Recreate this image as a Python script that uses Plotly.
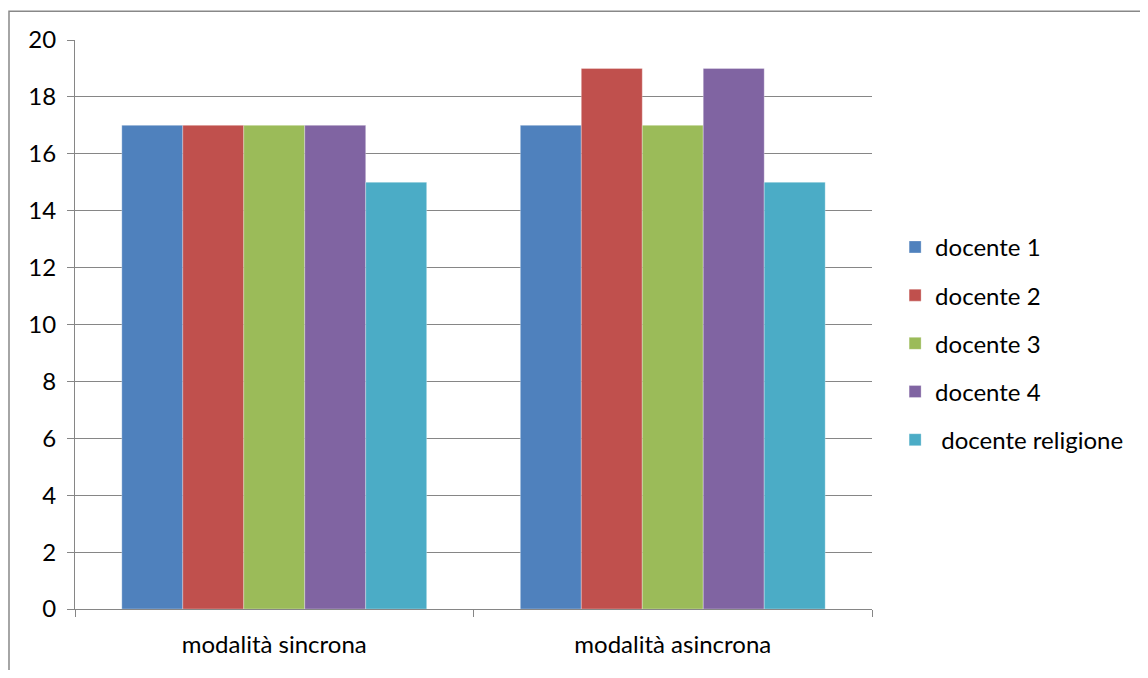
import plotly.graph_objects as go

categories = ["modalità sincrona", "modalità asincrona"]
series_names = ["docente 1", "docente 2", "docente 3", "docente 4", " docente religione"]
docente_1 = [17, 17]
docente_2 = [17, 19]
docente_3 = [17, 17]
docente_4 = [17, 19]
docente_religione = [15, 15]
series_values = [docente_1, docente_2, docente_3, docente_4, docente_religione]
colors = ["#4F81BD", "#C0504D", "#9BBB59", "#8064A2", "#4BACC6"]
y_ticks = list(range(0, 21, 2))

fig = go.Figure()
for i, (name, vals) in enumerate(zip(series_names, series_values)):
    fig.add_trace(go.Bar(
        x=categories, y=vals, name=name,
        marker=dict(color=colors[i], line=dict(color="rgba(255,255,255,0.6)", width=0.5)),
        legendgroup=f"g{i}",
    ))

# page body has an 8px margin: figure coords = image coords - 8
W, H = 1132, 662
L, R, T, B = 67, 867, 32, 606
pw, ph = R - L, B - T
FONT = "Lato, Carlito, Calibri, sans-serif"

fig.update_layout(
    width=W, height=H,
    barmode="group", bargap=0.235, bargroupgap=0,
    plot_bgcolor="white", paper_bgcolor="white",
    margin=dict(l=L, r=W - R, t=T, b=H - B, pad=0),
    font=dict(family=FONT, size=24, color="black"),
    showlegend=True,
    legend=dict(x=1.029, xanchor="left", y=0.4669, yanchor="middle",
                tracegroupgap=14, font=dict(size=24), itemwidth=30,
                bgcolor="rgba(0,0,0,0)"),
    xaxis=dict(showline=True, linecolor="#868686", linewidth=1,
               ticks="outside", tickson="boundaries", ticklen=7, tickcolor="#868686",
               showgrid=False, tickfont=dict(size=24), ticklabelstandoff=14),
    yaxis=dict(range=[0, 20], tickvals=y_ticks, showline=True, linecolor="#868686", linewidth=1,
               ticks="outside", ticklen=7, tickcolor="#868686",
               showgrid=True, gridcolor="#868686", gridwidth=1, zeroline=False,
               tickfont=dict(size=24), ticklabelstandoff=6),
    shapes=[dict(type="rect", xref="paper", yref="paper",
                 x0=(0.75 - L) / pw, x1=(W + 20 - L) / pw,
                 y0=-(H + 20 - B) / ph, y1=1 + (T - 3) / ph,
                 line=dict(color="#888888", width=1.5), fillcolor="rgba(0,0,0,0)", layer="below")],
)

fig.write_html("out.html")
